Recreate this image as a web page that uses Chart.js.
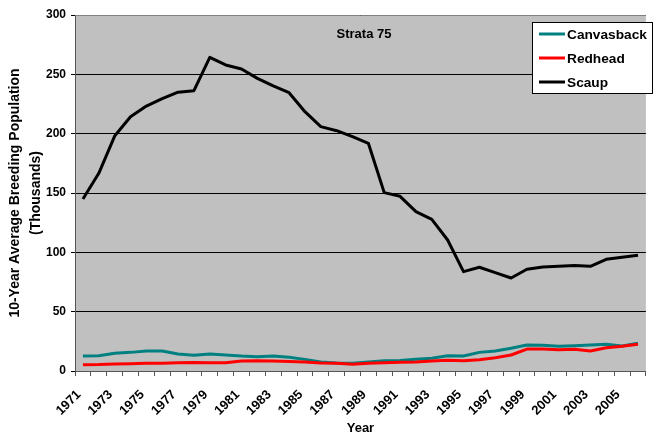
<!DOCTYPE html>
<html>
<head>
<meta charset="utf-8">
<script src="https://cdn.jsdelivr.net/npm/chart.js@4.4.1/dist/chart.umd.min.js"></script>
<style>
  html, body { margin: 0; padding: 0; background: #fff; overflow: hidden; }
  #wrap { width: 660px; height: 437px; }
</style>
</head>
<body>
<div id="wrap"><canvas id="chart" width="660" height="437"></canvas></div>
<script>
const years = ['1971', '1972', '1973', '1974', '1975', '1976', '1977', '1978', '1979', '1980',
    '1981', '1982', '1983', '1984', '1985', '1986', '1987', '1988', '1989', '1990',
    '1991', '1992', '1993', '1994', '1995', '1996', '1997', '1998', '1999', '2000',
    '2001', '2002', '2003', '2004', '2005', '2006'];

const canvasback = [12.6, 12.9, 14.9, 15.7, 16.9, 16.9, 14.3, 13.2, 14.3, 13.5,
    12.6, 12.1, 12.6, 11.5, 9.8, 7.6, 6.7, 6.5, 7.6, 8.7,
    8.9, 9.8, 10.7, 12.9, 12.6, 15.7, 16.9, 19.1, 21.9, 21.6,
    20.8, 21.3, 21.9, 22.5, 21.1, 23.3];

const redhead = [5.3, 5.4, 5.8, 6.1, 6.5, 6.6, 7.0, 7.2, 7.0, 7.0,
    8.4, 8.7, 8.4, 8.1, 7.6, 6.7, 6.5, 5.6, 6.5, 7.0,
    7.3, 7.6, 8.4, 9.0, 8.7, 9.5, 11.2, 13.5, 18.5, 18.5,
    18.0, 18.3, 16.9, 19.6, 20.8, 22.5];

const scaup = [145, 166.6, 198, 214.3, 223.3, 229.5, 235, 236.2, 264.3, 257.9,
    254.5, 246.6, 240.2, 234.5, 218.5, 205.9, 202.5, 197.5, 191.9, 150.3,
    147.2, 134.3, 127.8, 110.4, 83.7, 87.4, 82.9, 78.4, 85.7, 87.6,
    88.2, 89.0, 88.2, 94.1, 95.8, 97.5];

const yTicks = [0, 50, 100, 150, 200, 250, 300];

const FONT = 'Arial, "Liberation Sans", sans-serif';

// grey plot area, drawn before the grid
const plotBackground = {
    id: 'plotBackground',
    beforeDraw(chart) {
        const { ctx, chartArea: a } = chart;
        ctx.save();
        ctx.fillStyle = '#c0c0c0';
        ctx.fillRect(a.left, a.top, a.right - a.left, a.bottom - a.top);
        ctx.restore();
    },
    afterDatasetsDraw(chart) {
        const { ctx, chartArea: a } = chart;
        ctx.save();
        ctx.strokeStyle = '#808080';
        ctx.lineWidth = 1;
        ctx.beginPath();
        ctx.moveTo(a.left, a.top + 0.5);
        ctx.lineTo(a.right, a.top + 0.5);
        ctx.stroke();
        ctx.restore();
    }
};

// "Strata 75" label and the boxed legend inside the plot
const insideLabels = {
    id: 'insideLabels',
    afterDraw(chart) {
        const { ctx } = chart;
        ctx.save();
        ctx.fillStyle = '#000';
        ctx.font = 'bold 13px ' + FONT;
        ctx.textAlign = 'center';
        ctx.textBaseline = 'middle';
        ctx.fillText('Strata 75', 364, 34);

        const bx = 532.5, by = 22.5, bw = 120, bh = 71;
        ctx.fillStyle = '#fff';
        ctx.fillRect(bx, by, bw, bh);
        ctx.strokeStyle = '#000';
        ctx.lineWidth = 1;
        ctx.strokeRect(bx, by, bw, bh);

        ctx.font = 'bold 13.7px ' + FONT;
        ctx.textAlign = 'left';
        chart.data.datasets.forEach((ds, i) => {
            const y = 34 + i * 24;
            ctx.strokeStyle = ds.borderColor;
            ctx.lineWidth = 3;
            ctx.beginPath();
            ctx.moveTo(539, y);
            ctx.lineTo(565, y);
            ctx.stroke();
            ctx.fillStyle = '#000';
            ctx.fillText(ds.label, 567, y + 1);
        });
        ctx.restore();
    }
};

new Chart(document.getElementById('chart'), {
    type: 'line',
    data: {
        labels: years,
        datasets: [
            { label: 'Canvasback', data: canvasback, borderColor: '#008080', order: 3 },
            { label: 'Redhead', data: redhead, borderColor: '#ff0000', order: 2 },
            { label: 'Scaup', data: scaup, borderColor: '#000000', order: 1 }
        ].map(d => Object.assign(d, {
            borderWidth: 3,
            pointRadius: 0,
            fill: false,
            tension: 0,
            borderJoinStyle: 'round'
        }))
    },
    options: {
        responsive: false,
        animation: false,
        layout: { padding: { left: 0, right: 1.5, top: 15, bottom: 0 } },
        plugins: {
            legend: { display: false },
            tooltip: { enabled: false }
        },
        scales: {
            x: {
                offset: true,
                afterFit(scale) { scale.height = 66; },
                grid: {
                    offset: true,
                    drawOnChartArea: false,
                    drawTicks: true,
                    tickLength: 5,
                    color: '#555'
                },
                border: { color: '#555', width: 1 },
                ticks: {
                    autoSkip: false,
                    maxRotation: 45,
                    minRotation: 45,
                    color: '#000',
                    font: { family: FONT, size: 13, weight: 'bold' },
                    padding: 11,
                    labelOffset: -4,
                    callback(value, index) {
                        return index % 2 === 0 ? years[index] : '';
                    }
                },
                title: {
                    display: true,
                    text: 'Year',
                    color: '#000',
                    font: { family: FONT, size: 13, weight: 'bold' },
                    padding: { top: 0, bottom: 1 }
                }
            },
            y: {
                min: 0,
                max: 300,
                afterFit(scale) { scale.width = 75; },
                afterBuildTicks(scale) {
                    scale.ticks = yTicks.map(v => ({ value: v }));
                },
                grid: {
                    color: '#000',
                    lineWidth: 1,
                    tickLength: 4,
                    drawTicks: true
                },
                border: { color: '#555', width: 1 },
                ticks: {
                    color: '#000',
                    font: { family: FONT, size: 12, weight: 'bold' },
                    padding: 5
                },
                title: {
                    display: true,
                    text: ['10-Year Average Breeding Population', '(Thousands)'],
                    color: '#000',
                    font: { family: FONT, size: 14, weight: 'bold', lineHeight: 1.55 },
                    padding: { top: 4, bottom: 0 }
                }
            }
        }
    },
    plugins: [plotBackground, insideLabels]
});
</script>
</body>
</html>
